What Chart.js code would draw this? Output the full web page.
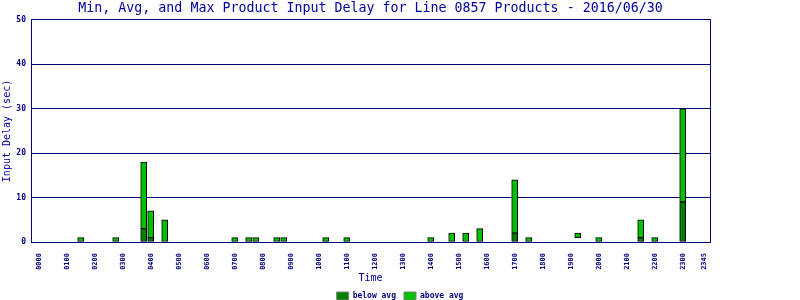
<!DOCTYPE html>
<html>
<head>
<meta charset="utf-8">
<script src="https://cdn.jsdelivr.net/npm/chart.js@4.4.1/dist/chart.umd.min.js"></script>
<style>
    body { margin: 0; background: #fff; }
</style>
</head>
<body>
<canvas id="delayChart" width="800" height="300"></canvas>
<script>
// time slots (15 min) that have data
const times = ['0130', '0245', '0345', '0400', '0430', '0700', '0730', '0745', '0830', '0845', '1015', '1100',
    '1400', '1445', '1515', '1545', '1700', '1730', '1915', '2000', '2130', '2200', '2300'];
const minDelay = [0, 0, 0, 0, 0, 0, 0, 0, 0, 0, 0, 0, 0, 0, 0, 0, 0, 0, 1, 0, 0, 0, 0];
const avgDelay = [0, 0, 3, 1, 0, 0, 0, 0, 0, 0, 0, 0, 0, 0, 0, 0, 2, 0, 1, 0, 1, 0, 9];
const maxDelay = [1, 1, 18, 7, 5, 1, 1, 1, 1, 1, 1, 1, 1, 2, 2, 3, 14, 1, 2, 1, 5, 1, 30];

const tickLabels = ['0000', '0100', '0200', '0300', '0400', '0500', '0600', '0700', '0800', '0900', '1000', '1100',
    '1200', '1300', '1400', '1500', '1600', '1700', '1800', '1900', '2000', '2100', '2200', '2300', '2345'];
const yTicks = [0, 10, 20, 30, 40, 50];

const navy = '#000080';
const titleBlue = '#0000a0';
const mono = '"DejaVu Sans Mono", "Liberation Mono", monospace';

// '0130' -> 1.5 hours
function toHours(t) {
    return parseInt(t.slice(0, 2), 10) + parseInt(t.slice(2), 10) / 60;
}

const belowData = [];
const aboveData = [];
times.forEach((t, i) => {
    if (avgDelay[i] > minDelay[i]) belowData.push({ x: toHours(t), y: [minDelay[i], avgDelay[i]] });
    if (maxDelay[i] > avgDelay[i]) aboveData.push({ x: toHours(t), y: [avgDelay[i], maxDelay[i]] });
});

const ctx = document.getElementById('delayChart').getContext('2d');

const delayChart = new Chart(ctx, {
    type: 'bar',
    data: {
        datasets: [{
            label: 'below avg',
            data: belowData,
            backgroundColor: '#008000',
            borderColor: '#000000',
            borderWidth: 1,
            borderSkipped: false,
            barThickness: 6,
            grouped: false
        }, {
            label: 'above avg',
            data: aboveData,
            backgroundColor: '#00c000',
            borderColor: '#000000',
            borderWidth: 1,
            borderSkipped: false,
            barThickness: 6,
            grouped: false
        }]
    },
    options: {
        responsive: false,
        animation: false,
        layout: {
            padding: { left: 0, right: 0, top: 0, bottom: -10 }
        },
        plugins: {
            tooltip: { enabled: false },
            title: {
                display: true,
                fullSize: false,
                text: 'Min, Avg, and Max Product Input Delay for Line 0857 Products - 2016/06/30',
                color: titleBlue,
                font: { family: mono, size: 13.3, weight: 'normal', lineHeight: 1.2 },
                padding: { top: 1, bottom: 3 }
            },
            legend: {
                position: 'bottom',
                labels: {
                    boxWidth: 12,
                    boxHeight: 8,
                    padding: 8,
                    color: navy,
                    font: { family: mono, size: 8, weight: 'bold' },
                    generateLabels: chart => chart.data.datasets.map((ds, i) => ({
                        text: ds.label,
                        fillStyle: ds.backgroundColor,
                        strokeStyle: '#808080',
                        lineWidth: 1,
                        fontColor: navy,
                        datasetIndex: i
                    }))
                }
            }
        },
        scales: {
            x: {
                type: 'linear',
                offset: false,
                min: -0.275,
                max: 23.975,
                afterFit: scale => { scale.height = 42; },
                afterBuildTicks: scale => {
                    scale.ticks = tickLabels.map(t => ({ value: toHours(t) }));
                },
                grid: { display: false, offset: false },
                border: { color: navy, width: 1 },
                ticks: {
                    autoSkip: false,
                    minRotation: 90,
                    maxRotation: 90,
                    padding: 3,
                    color: navy,
                    font: { family: mono, size: 7, weight: 'bold' },
                    callback: value => tickLabels.find(t => Math.abs(toHours(t) - value) < 0.01) || ''
                },
                title: {
                    display: true,
                    text: 'Time',
                    color: titleBlue,
                    font: { family: mono, size: 10, lineHeight: 1.2 },
                    padding: { top: 0, bottom: 0 }
                }
            },
            y: {
                min: 0,
                max: 50,
                afterFit: scale => { scale.width = 31; },
                afterBuildTicks: scale => {
                    scale.ticks = yTicks.map(v => ({ value: v }));
                },
                grid: { color: navy, lineWidth: 1, drawTicks: false },
                border: { color: navy, width: 1 },
                ticks: {
                    padding: 5,
                    color: navy,
                    font: { family: mono, size: 8, weight: 'bold' }
                },
                title: {
                    display: true,
                    text: 'Input Delay (sec)',
                    color: titleBlue,
                    font: { family: mono, size: 10, lineHeight: 1.2 },
                    padding: { top: 1, bottom: 0 }
                }
            },
            yRight: {
                position: 'right',
                min: 0,
                max: 50,
                afterFit: scale => { scale.width = 90; },
                grid: { display: false },
                border: { color: navy, width: 1 },
                ticks: { display: false }
            }
        }
    }
});
</script>
</body>
</html>
